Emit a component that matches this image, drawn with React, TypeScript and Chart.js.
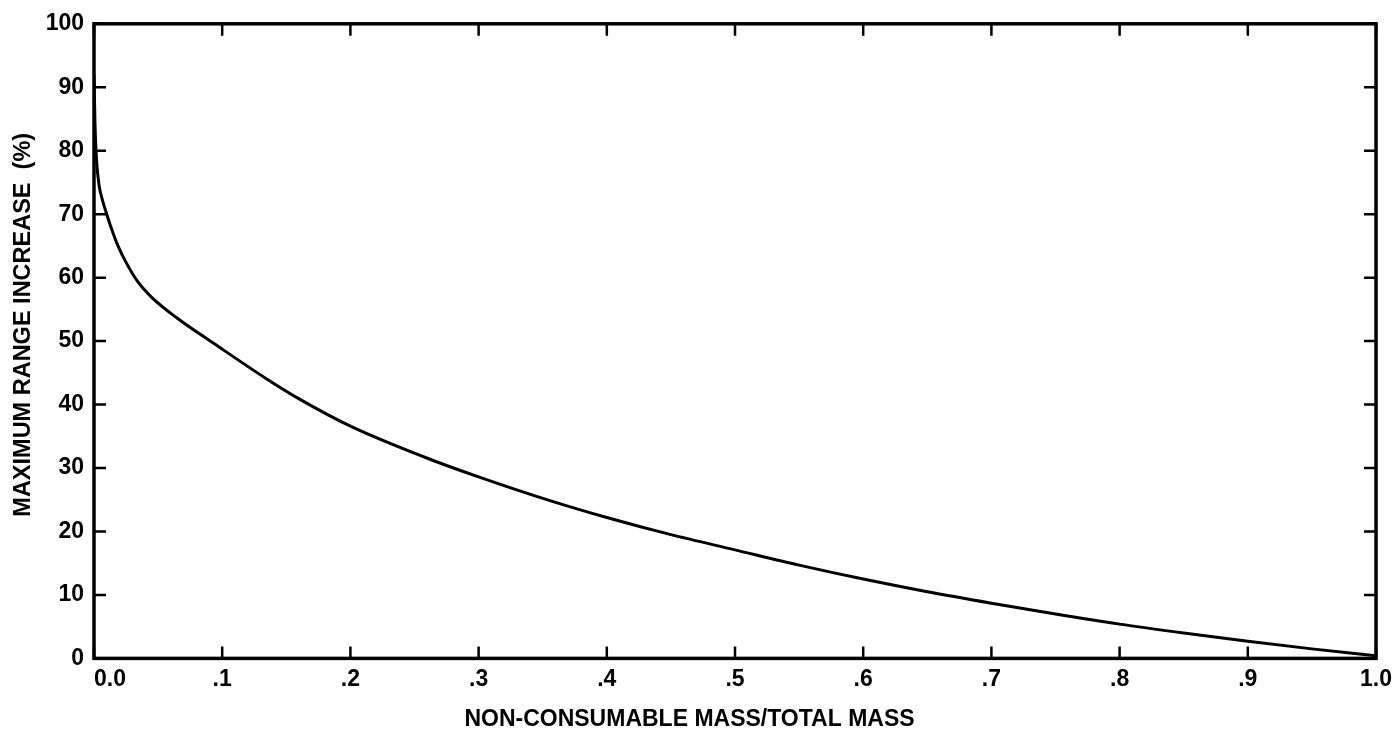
import React, { useEffect, useRef } from "react";
import { Chart, registerables } from "chart.js";

Chart.register(...registerables);

const xValues = [0, 0.0008, 0.002, 0.004, 0.0065, 0.0099, 0.014, 0.0187, 0.025, 0.034, 0.045, 0.065, 0.093, 0.135, 0.16, 0.2, 0.258, 0.3, 0.355, 0.4, 0.45, 0.5, 0.55, 0.6, 0.65, 0.7, 0.75, 0.8, 0.85, 0.9, 0.95, 1.0];
const yValues = [92, 84, 78.5, 74.5, 72.3, 70, 67.5, 65, 62.4, 59.4, 56.9, 53.6, 49.7, 44.0, 40.9, 36.6, 31.7, 28.6, 24.9, 22.2, 19.5, 17.1, 14.7, 12.5, 10.5, 8.7, 7.0, 5.4, 4.0, 2.7, 1.5, 0.4];

const xTickLabels = ["0.0", ".1", ".2", ".3", ".4", ".5", ".6", ".7", ".8", ".9", "1.0"];
const yTickLabels = ["0", "10", "20", "30", "40", "50", "60", "70", "80", "90", "100"];

const xTitle = "NON-CONSUMABLE MASS/TOTAL MASS";
const yTitle = "MAXIMUM RANGE INCREASE  (%)";

const FONT_FAMILY = '"Liberation Sans", Arial, Helvetica, sans-serif';

const framePlugin = {
  id: "frameTicks",
  afterDatasetsDraw(chart: any) {
    const { ctx, chartArea, scales } = chart;
    const { left, right, top, bottom } = chartArea;
    const len = 12;
    ctx.save();
    ctx.strokeStyle = "#000";
    ctx.lineCap = "butt";
    ctx.lineWidth = 2.5;
    const xs = scales.x;
    xs.ticks.forEach((t: any) => {
      const px = xs.getPixelForValue(t.value);
      ctx.beginPath();
      ctx.moveTo(px, bottom);
      ctx.lineTo(px, bottom - len);
      ctx.moveTo(px, top);
      ctx.lineTo(px, top + len);
      ctx.stroke();
    });
    const ys = scales.y;
    ys.ticks.forEach((t: any) => {
      const py = ys.getPixelForValue(t.value);
      ctx.beginPath();
      ctx.moveTo(left, py);
      ctx.lineTo(left + len, py);
      ctx.moveTo(right, py);
      ctx.lineTo(right - len, py);
      ctx.stroke();
    });
    ctx.lineWidth = 3.5;
    ctx.lineJoin = "miter";
    ctx.strokeRect(left, top, right - left, bottom - top);
    ctx.restore();
  },
};

export default function App() {
  const canvasRef = useRef<HTMLCanvasElement | null>(null);

  useEffect(() => {
    if (!canvasRef.current) return;
    const points = xValues.map((x, i) => ({ x, y: yValues[i] }));
    const chart = new Chart(canvasRef.current, {
      type: "line",
      data: {
        datasets: [
          {
            data: points,
            borderColor: "#000",
            borderWidth: 3,
            pointRadius: 0,
            fill: false,
            cubicInterpolationMode: "monotone",
          },
        ],
      },
      options: {
        animation: false,
        responsive: false,
        devicePixelRatio: 1,
        layout: { padding: { top: 21, right: 20, left: 0, bottom: 0 } },
        plugins: {
          legend: { display: false },
          tooltip: { enabled: false },
          title: {
            display: true,
            text: xTitle,
            position: "bottom",
            color: "#000",
            font: { family: FONT_FAMILY, size: 23, weight: "bold" },
            padding: { top: 0, bottom: 3 },
          },
        },
        scales: {
          x: {
            type: "linear",
            min: 0,
            max: 1,
            grid: { display: false, drawTicks: false },
            border: { display: false },
            ticks: {
              stepSize: 0.1,
              autoSkip: false,
              maxRotation: 0,
              padding: 7,
              color: "#000",
              font: { family: FONT_FAMILY, size: 23, weight: "bold" },
              callback: (_v: any, i: number) => (i === 0 ? "     " + xTickLabels[i] : xTickLabels[i]),
            },
            afterFit: (s: any) => {
              s.height = 47;
            },
          },
          y: {
            type: "linear",
            min: 0,
            max: 100,
            grid: { display: false, drawTicks: false },
            border: { display: false },
            ticks: {
              stepSize: 10,
              autoSkip: false,
              padding: 10,
              color: "#000",
              font: { family: FONT_FAMILY, size: 23, weight: "bold" },
              callback: (_v: any, i: number) => yTickLabels[i],
            },
            title: {
              display: true,
              text: "     " + yTitle,
              color: "#000",
              font: { family: FONT_FAMILY, size: 23.5, weight: "bold" },
              padding: { top: 9, bottom: 0 },
            },
            afterFit: (s: any) => {
              s.width = 94;
            },
          },
        },
      },
      plugins: [framePlugin],
    });
    return () => chart.destroy();
  }, []);

  return (
    <div style={{ position: "absolute", left: 0, top: 0, width: 1399, height: 736, background: "#fff" }}>
      <canvas ref={canvasRef} width={1399} height={736} style={{ display: "block" }} />
    </div>
  );
}
